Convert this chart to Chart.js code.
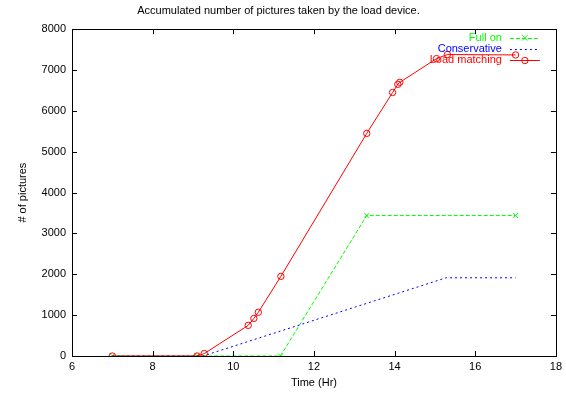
<!DOCTYPE html>
<html>
<head>
<meta charset="utf-8">
<script src="https://cdn.jsdelivr.net/npm/chart.js@4"></script>
<style>
  html, body { margin: 0; padding: 0; background: #fff; }
  #wrap { width: 566px; height: 393px; }
</style>
</head>
<body>
<div id="wrap"><canvas id="grafico" width="566" height="393"></canvas></div>
<script>
// data
const seriesNames = ['Full on', 'Conservative', 'Load matching'];

const fullOnX = [7, 9.1, 11.17, 13.31, 17];
const fullOnY = [0, 0, 0, 3440, 3440];

const conservX = [7, 9.25, 15.28, 17];
const conservY = [0, 0, 1915, 1915];

const loadX = [7, 9.1, 9.28, 10.37, 10.51, 10.62, 11.18, 13.31, 13.95, 14.08, 14.13, 15.04, 15.31, 17];
const loadY = [0, 0, 60, 750, 920, 1070, 1950, 5450, 6450, 6650, 6700, 7280, 7380, 7370];

const xTicks = [6, 8, 10, 12, 14, 16, 18];
const yTicks = [0, 1000, 2000, 3000, 4000, 5000, 6000, 7000, 8000];

const FONT = 'Liberation Sans, Arial, sans-serif';

function pts(xs, ys) {
    return xs.map((x, i) => ({ x: x, y: ys[i] }));
}

// frame + inward ticks on all four sides, gnuplot style
const frameTicks = {
    id: 'frameTicks',
    afterDatasetsDraw(chart) {
        const ctx = chart.ctx;
        const a = chart.chartArea;
        const xs = chart.scales.x, ys = chart.scales.y;
        const len = 5;
        ctx.save();
        ctx.strokeStyle = '#000';
        ctx.lineWidth = 1;
        ctx.beginPath();
        xTicks.forEach(v => {
            const p = Math.round(xs.getPixelForValue(v)) + 0.5;
            ctx.moveTo(p, a.bottom); ctx.lineTo(p, a.bottom - len);
            ctx.moveTo(p, a.top); ctx.lineTo(p, a.top + len);
        });
        yTicks.forEach(v => {
            const p = Math.round(ys.getPixelForValue(v)) + 0.5;
            ctx.moveTo(a.left, p); ctx.lineTo(a.left + len, p);
            ctx.moveTo(a.right, p); ctx.lineTo(a.right - len, p);
        });
        ctx.stroke();
        ctx.strokeRect(Math.round(a.left) + 0.5, Math.round(a.top) + 0.5,
            Math.round(a.right - a.left), Math.round(a.bottom - a.top));
        ctx.restore();
    }
};

// key in the top right corner: text first, then the line sample
const gnuKey = {
    id: 'gnuKey',
    afterDraw(chart) {
        const ctx = chart.ctx;
        const a = chart.chartArea;
        const textRight = a.right - 54;
        const x0 = a.right - 46, x1 = a.right - 16;
        ctx.save();
        ctx.font = '11px ' + FONT;
        ctx.textAlign = 'right';
        ctx.textBaseline = 'middle';
        const order = [1, 2, 0]; // dataset indexes for Full on, Conservative, Load matching
        order.forEach((di, row) => {
            const ds = chart.data.datasets[di];
            const y = a.top + 8.5 + row * 11;
            ctx.fillStyle = ds.borderColor;
            ctx.fillText(ds.label, textRight, y);
            ctx.strokeStyle = ds.borderColor;
            ctx.lineWidth = 1;
            ctx.setLineDash(ds.borderDash || []);
            ctx.beginPath();
            ctx.moveTo(x0, Math.round(y) + 0.5);
            ctx.lineTo(x1, Math.round(y) + 0.5);
            ctx.stroke();
            ctx.setLineDash([]);
            if (ds.pointRadius > 0) {
                const cx = (x0 + x1) / 2;
                const r = ds.pointRadius;
                ctx.beginPath();
                if (ds.pointStyle === 'circle') {
                    ctx.arc(cx, Math.round(y) + 0.5, r, 0, Math.PI * 2);
                } else {
                    ctx.moveTo(cx - r * 0.8, y - r * 0.8); ctx.lineTo(cx + r * 0.8, y + r * 0.8);
                    ctx.moveTo(cx - r * 0.8, y + r * 0.8); ctx.lineTo(cx + r * 0.8, y - r * 0.8);
                }
                ctx.stroke();
            }
        });
        ctx.restore();
    }
};

const grafico = document.getElementById('grafico').getContext('2d');

const myChart = new Chart(grafico, {
    type: 'line',
    data: {
        datasets: [{
            label: seriesNames[2],
            data: pts(loadX, loadY),
            borderColor: '#ff0000',
            borderWidth: 1,
            pointStyle: 'circle',
            pointRadius: 3.2,
            pointBorderWidth: 1,
            pointBackgroundColor: 'rgba(0,0,0,0)',
            pointBorderColor: '#ff0000',
            tension: 0,
            order: 0
        }, {
            label: seriesNames[0],
            data: pts(fullOnX, fullOnY),
            borderColor: '#00ff00',
            borderWidth: 1,
            borderDash: [4, 2],
            pointStyle: 'crossRot',
            pointRadius: 3.5,
            pointBorderWidth: 1,
            pointBorderColor: '#00ff00',
            tension: 0,
            order: 2
        }, {
            label: seriesNames[1],
            data: pts(conservX, conservY),
            borderColor: '#0000ff',
            borderWidth: 1,
            borderDash: [2, 3],
            pointRadius: 0,
            tension: 0,
            order: 1
        }]
    },
    plugins: [frameTicks, gnuKey],
    options: {
        responsive: false,
        animation: false,
        layout: { padding: { left: 0, right: 9, top: 0, bottom: 0 } },
        plugins: {
            legend: { display: false },
            tooltip: { enabled: false },
            title: {
                display: true,
                text: 'Accumulated number of pictures taken by the load device.',
                color: '#000',
                font: { family: FONT, size: 11, weight: 'normal' },
                padding: { top: 4, bottom: 12 }
            }
        },
        scales: {
            x: {
                type: 'linear',
                min: 6,
                max: 18,
                afterBuildTicks: s => { s.ticks = xTicks.map(v => ({ value: v })); },
                afterFit: s => { s.height = 37; },
                grid: { display: false, drawTicks: false },
                border: { display: false },
                ticks: { color: '#000', padding: 4, font: { family: FONT, size: 11 }, maxRotation: 0 },
                title: {
                    display: true,
                    text: 'Time (Hr)',
                    color: '#000',
                    font: { family: FONT, size: 11 },
                    padding: { top: 0, bottom: 3 }
                }
            },
            y: {
                min: 0,
                max: 8000,
                afterBuildTicks: s => { s.ticks = yTicks.map(v => ({ value: v })); },
                afterFit: s => { s.width = 72; },
                grid: { display: false, drawTicks: false },
                border: { display: false },
                ticks: {
                    color: '#000', padding: 6, font: { family: FONT, size: 11 },
                    callback: v => String(v)
                },
                title: {
                    display: true,
                    text: '# of pictures',
                    color: '#000',
                    font: { family: FONT, size: 11 },
                    padding: { top: 16, bottom: 0 }
                }
            }
        }
    }
});
</script>
</body>
</html>
